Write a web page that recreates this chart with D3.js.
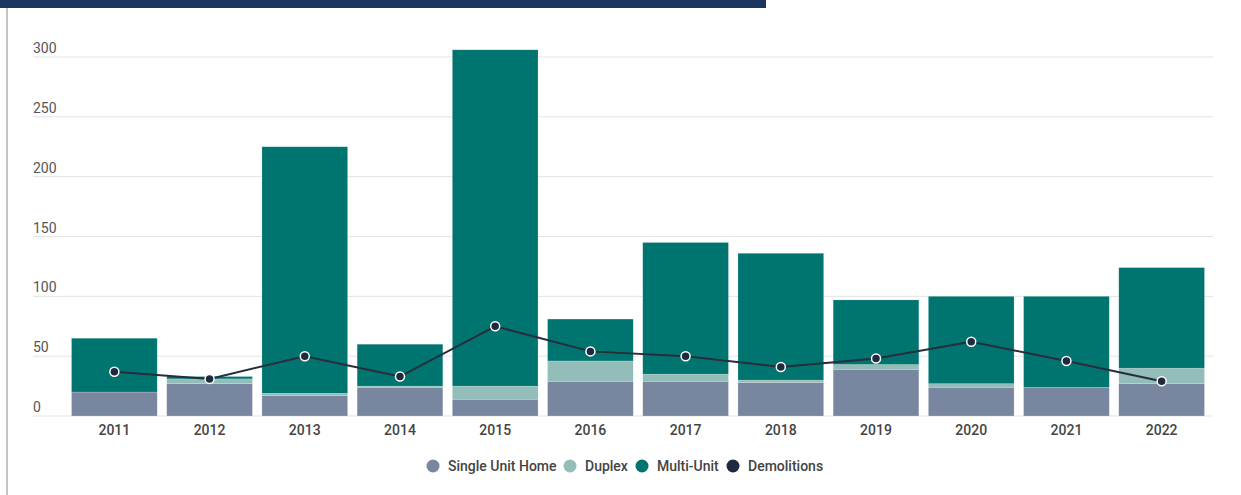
<!DOCTYPE html>
<html>
<head>
<meta charset="utf-8">
<script src="https://cdn.jsdelivr.net/npm/d3@7"></script>
<style>
  body { margin: 0; background: #fff; font-family: Roboto, "Noto Sans", sans-serif; }
</style>
</head>
<body>
<div id="vis"></div>
<script>
// data
const years = ["2011","2012","2013","2014","2015","2016","2017","2018","2019","2020","2021","2022"];
const singleUnit = [20, 27, 17, 24, 14, 29, 29, 28, 39, 24, 24, 27];
const duplex     = [0, 4, 2, 1, 11, 17, 6, 2, 4, 3, 0, 13];
const multiUnit  = [45, 2, 206, 35, 281, 35, 110, 106, 54, 73, 76, 84];
const demolitions = [37, 31, 50, 33, 75, 54, 50, 41, 48, 62, 46, 29];
const yTicks = [0, 50, 100, 150, 200, 250, 300];

const seriesNames = ["Single Unit Home", "Duplex", "Multi-Unit", "Demolitions"];
const colors = ["#7886a0", "#93bdb8", "#00756f", "#1f2a40"];

const width = 1241;
const height = 495;
const margin = { left: 62, right: 27, top: 57, bottom: 79 };

const svg = d3.select("#vis")
    .append("svg")
    .attr("width", width)
    .attr("height", height);

// header stripe and left border
svg.append("rect").attr("x", 0).attr("y", 0).attr("width", 766).attr("height", 8).attr("fill", "#1a365e");
svg.append("rect").attr("x", 6).attr("y", 8).attr("width", 2).attr("height", height - 8).attr("fill", "#c4c4c4");

const x = d3.scaleBand()
    .domain(years)
    .range([margin.left, width - margin.right])
    .padding(0.1);

const y = d3.scaleLinear()
    .domain([0, 300])
    .range([height - margin.bottom, margin.top]);

// gridlines + labels
const grid = svg.append("g");
grid.selectAll(".grid")
    .data(yTicks)
    .join("line")
        .attr("x1", 33)
        .attr("x2", 1213)
        .attr("y1", d => y(d))
        .attr("y2", d => y(d))
        .attr("stroke", "#e3e3e3")
        .attr("stroke-width", 1);

grid.selectAll(".ylab")
    .data(yTicks)
    .join("text")
        .attr("x", 33)
        .attr("y", d => y(d) - 4)
        .style("font-size", "14px")
        .style("fill", "#555")
        .text(d => d);

// stacked bars
const rows = years.map((yr, i) => ({ year: yr, s: singleUnit[i], d: duplex[i], m: multiUnit[i] }));
const stack = d3.stack().keys(["s", "d", "m"])(rows);

svg.append("g")
    .selectAll("g")
    .data(stack)
    .join("g")
        .attr("fill", (_, i) => colors[i])
    .selectAll("rect")
    .data(d => d)
    .join("rect")
        .attr("x", d => x(d.data.year))
        .attr("y", d => y(d[1]))
        .attr("width", x.bandwidth())
        .attr("height", d => y(d[0]) - y(d[1]))
        .attr("stroke", "rgba(255,255,255,0.35)")
        .attr("stroke-width", 0.5);

// x labels
svg.append("g")
    .selectAll("text")
    .data(years)
    .join("text")
        .attr("x", d => x(d) + x.bandwidth() / 2)
        .attr("y", 435)
        .attr("text-anchor", "middle")
        .style("font-size", "14px")
        .style("font-weight", 500)
        .style("fill", "#444")
        .text(d => d);

// demolitions line
const cx = i => x(years[i]) + x.bandwidth() / 2;
const line = d3.line()
    .x((_, i) => cx(i))
    .y(d => y(d));

svg.append("path")
    .datum(demolitions)
    .attr("d", line)
    .attr("fill", "none")
    .attr("stroke", "#262d3d")
    .attr("stroke-width", 2);

svg.append("g")
    .selectAll("circle")
    .data(demolitions)
    .join("circle")
        .attr("cx", (_, i) => cx(i))
        .attr("cy", d => y(d))
        .attr("r", 4.5)
        .attr("fill", colors[3])
        .attr("stroke", "#fff")
        .attr("stroke-width", 1.5);

// legend
const legendX = [433, 570, 642, 733];
const legend = svg.append("g")
    .selectAll("g")
    .data(seriesNames)
    .join("g")
        .attr("transform", (_, i) => `translate(${legendX[i]}, 466)`);

legend.append("circle")
    .attr("r", 6.5)
    .attr("fill", (_, i) => colors[i]);

legend.append("text")
    .attr("x", 15)
    .attr("y", 5)
    .style("font-size", "14px")
    .style("font-weight", 500)
    .style("fill", "#444")
    .text(d => d);
</script>
</body>
</html>
